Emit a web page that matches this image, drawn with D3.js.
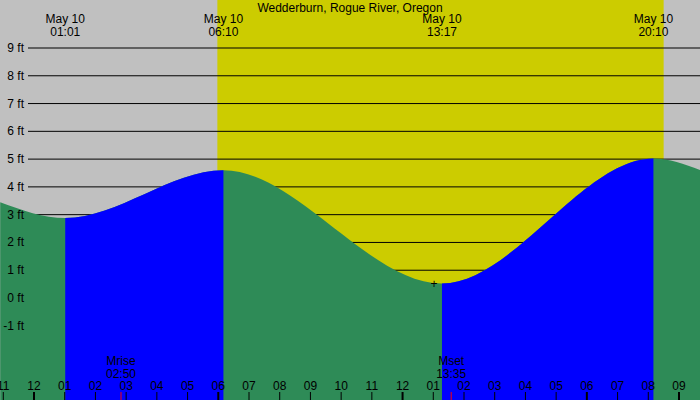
<!DOCTYPE html>
<html>
<head>
<script src="https://d3js.org/d3.v7.min.js"></script>
<style>body{margin:0}text{font-family:"Liberation Sans",Arial,sans-serif;font-size:12px}</style>
</head>
<body>
<svg id="c" width="700" height="400"></svg>
<script>
// tide extremes, hours from midnight May 10
const extremeHours = [1.017, 6.167, 13.283, 20.167];
const extremeLabels = ["01:01", "06:10", "13:17", "20:10"];
const extremeFeet = [2.88, 4.6, 0.52, 5.02];
// curve ends at the window edges
const edgeHours = [-1.1, 21.7];
const edgeFeet = [3.45, 4.6];
const sunrise = 5.97, sunset = 20.5;
const moonEvents = [{name: "Mrise", label: "02:50", h: 2.833}, {name: "Mset", label: "13:35", h: 13.583}];
const feetTicks = [-1, 0, 1, 2, 3, 4, 5, 6, 7, 8, 9];
const hourTicks = d3.range(-1, 22);

const svg = d3.select("#c");
const x = d3.scaleLinear().domain([0, 21]).range([34, 679]);
const y = d3.scaleLinear().domain([0, 9]).range([298, 48]);

svg.append("rect").attr("width", 700).attr("height", 400).attr("fill", "#c0c0c0");
svg.append("rect").attr("x", x(sunrise)).attr("width", x(sunset) - x(sunrise))
  .attr("y", 0).attr("height", 400).attr("fill", "#cccc00");

// grid
feetTicks.forEach(f => {
  svg.append("line").attr("x1", 28).attr("x2", 700).attr("y1", y(f)).attr("y2", y(f))
    .attr("stroke", "#000");
});

const pts = [[edgeHours[0], edgeFeet[0]]]
  .concat(extremeHours.map((h, i) => [h, extremeFeet[i]]))
  .concat([[edgeHours[1], edgeFeet[1]]]);

const area = d3.area().x(d => x(d[0])).y0(400).y1(d => y(d[1])).curve(d3.curveMonotoneX);
svg.append("path").datum(pts).attr("d", area).attr("fill", "#2e8b57");

// rising tide segments in blue
const clip = svg.append("defs");
[[0, 1], [2, 3]].forEach(([a, b], i) => {
  clip.append("clipPath").attr("id", "r" + i).append("rect")
    .attr("x", x(extremeHours[a])).attr("width", x(extremeHours[b]) - x(extremeHours[a]))
    .attr("y", 0).attr("height", 400);
  svg.append("path").datum(pts).attr("d", area).attr("fill", "#0000ff")
    .attr("clip-path", `url(#r${i})`);
});

feetTicks.forEach(f => {
  svg.append("text").attr("x", 24).attr("y", y(f) + 4).attr("text-anchor", "end").text(f + " ft");
});

// top labels
extremeHours.forEach((h, i) => {
  const t = svg.append("text").attr("text-anchor", "middle");
  t.append("tspan").attr("x", x(h)).attr("y", 23).text("May 10");
  t.append("tspan").attr("x", x(h)).attr("y", 36).text(extremeLabels[i]);
});
svg.append("text").attr("x", 350).attr("y", 12).attr("text-anchor", "middle")
  .text("Wedderburn, Rogue River, Oregon");
svg.append("text").attr("x", x(extremeHours[2]) - 8).attr("y", y(extremeFeet[2]) + 4)
  .attr("text-anchor", "middle").text("+");

// hour axis
hourTicks.forEach(h => {
  const lab = String(((h % 12) + 12) % 12 || 12).padStart(2, "0");
  svg.append("text").attr("x", x(h)).attr("y", 390).attr("text-anchor", "middle").text(lab);
  svg.append("line").attr("x1", x(h)).attr("x2", x(h)).attr("y1", 392).attr("y2", 400)
    .attr("stroke", "#000").attr("stroke-width", h % 6 === 0 || h === 21 ? 2 : 1);
});
moonEvents.forEach(m => {
  const t = svg.append("text").attr("text-anchor", "middle");
  t.append("tspan").attr("x", x(m.h)).attr("y", 365).text(m.name);
  t.append("tspan").attr("x", x(m.h)).attr("y", 378).text(m.label);
  svg.append("line").attr("x1", x(m.h)).attr("x2", x(m.h)).attr("y1", 392).attr("y2", 400)
    .attr("stroke", "#ff0000");
});
</script>
</body>
</html>
